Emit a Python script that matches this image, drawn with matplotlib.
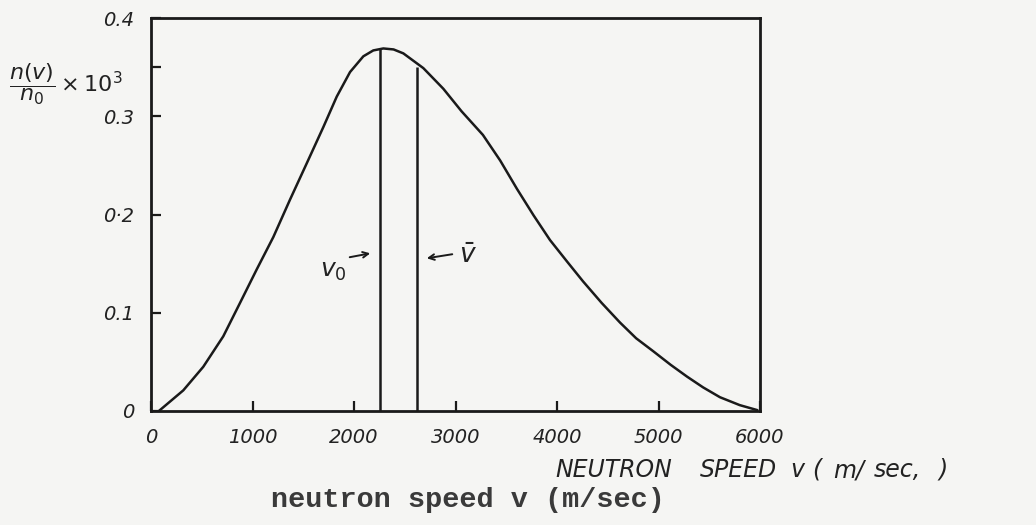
import matplotlib
matplotlib.use("Agg")
import matplotlib.pyplot as plt

# Data (speed in m/s, n(v)/n0 x 10^3)
speed = [89, 318, 515, 712, 877, 1041, 1205, 1369, 1534, 1698, 1830, 1961,
         2092, 2190, 2289, 2390, 2486, 2683, 2880, 3060, 3270, 3440, 3606,
         3770, 3931, 4100, 4256, 4440, 4621, 4780, 4946, 5120, 5281, 5440,
         5606, 5800, 5970]
density = [0.001, 0.021, 0.045, 0.076, 0.110, 0.144, 0.177, 0.215, 0.252,
           0.289, 0.320, 0.345, 0.361, 0.367, 0.369, 0.368, 0.364, 0.349,
           0.328, 0.305, 0.281, 0.255, 0.226, 0.199, 0.174, 0.152, 0.132,
           0.110, 0.090, 0.074, 0.061, 0.047, 0.035, 0.024, 0.014, 0.006,
           0.001]

v0_speed, v0_height = 2256, 0.369
vbar_speed, vbar_height = 2621, 0.350

x_ticks = [0, 1000, 2000, 3000, 4000, 5000, 6000]
x_labels = ["0", "1000", "2000", "3000", "4000", "5000", "6000"]
y_ticks = [0, 0.1, 0.2, 0.3, 0.4]
y_labels = ["0", "0.1", "0·2", "0.3", "0.4"]

ink = "#1a1a1a"
bg = "#f5f5f3"
hand = dict(family="DejaVu Sans", style="italic", color="#222222")

fig = plt.figure(figsize=(10.36, 5.25), dpi=100)
fig.patch.set_facecolor(bg)
ax = fig.add_axes([151/1036, 1-411/525, (760-151)/1036, (411-18)/525])
ax.set_facecolor(bg)

ax.plot(speed, density, color=ink, lw=1.8, solid_joinstyle="round")
ax.vlines([v0_speed, vbar_speed], 0, [v0_height, vbar_height], color=ink, lw=1.8)

ax.set_xlim(0, 6000)
ax.set_ylim(0, 0.4)
for s in ax.spines.values():
    s.set_linewidth(2.0)
    s.set_color(ink)

ax.set_xticks(x_ticks)
ax.set_xticklabels(x_labels, fontsize=14, **hand)
ax.set_yticks(y_ticks + [0.35])
ax.set_yticklabels(y_labels + [""], fontsize=14, **hand)
ax.tick_params(axis="both", direction="in", length=7, width=1.6, color=ink, pad=12)

# annotations
ax.annotate("", xy=(2187, 0.161), xytext=(1931, 0.156),
            arrowprops=dict(arrowstyle="->", color=ink, lw=1.4))
ax.text(1665, 0.142, r"$v_0$", fontsize=18, color="#222222", ha="left", va="center")
ax.annotate("", xy=(2690, 0.155), xytext=(2995, 0.160),
            arrowprops=dict(arrowstyle="->", color=ink, lw=1.4))
ax.text(3030, 0.158, r"$\bar{v}$", fontsize=19, color="#222222", ha="left", va="center")

fig.text(66/1036, 1-84/525, r"$\dfrac{n(v)}{n_0}\times10^3$", fontsize=16,
         ha="center", va="center", color="#222222")

# hand-lettered axis caption
cap_y = 1 - 470/525
for word, px in [("NEUTRON", 555), ("SPEED", 700), ("v", 790), ("(", 812),
                 ("m/", 833), ("sec,", 874), (")", 938)]:
    fig.text(px/1036, cap_y, word, fontsize=17, ha="left", va="center", **hand)

fig.text(468/1036, 1-500/525, "neutron speed v (m/sec)", fontsize=20.5,
         family="Liberation Mono", weight="bold", ha="center", va="center",
         color="#3a3a3a")

fig.savefig("out.png", dpi=100, facecolor=fig.get_facecolor())
